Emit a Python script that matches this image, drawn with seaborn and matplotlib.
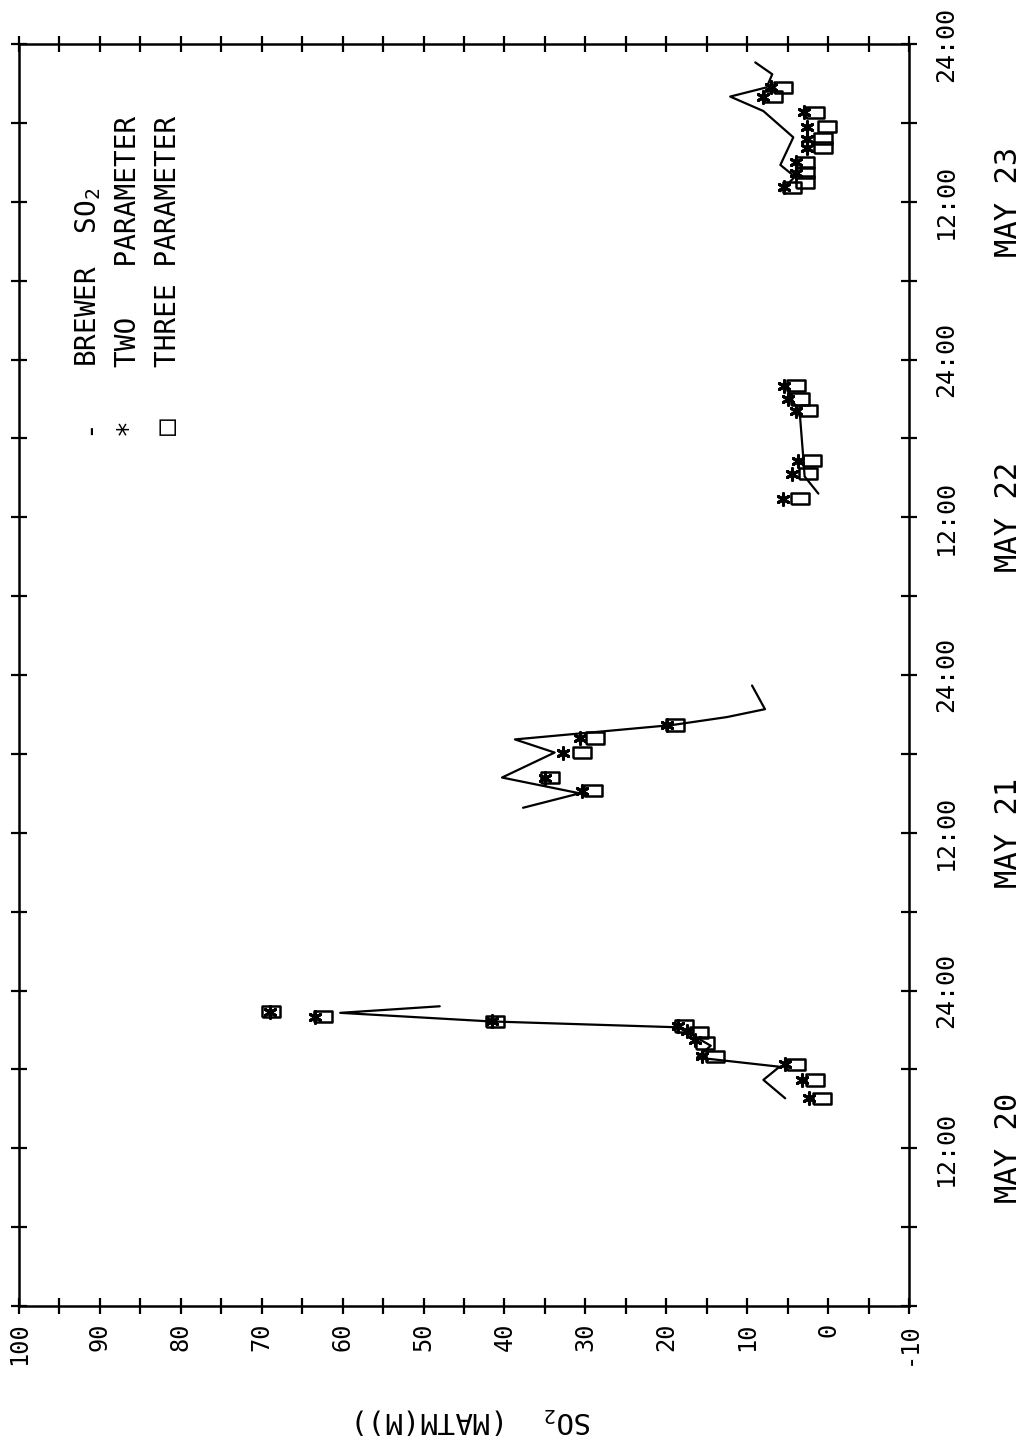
import numpy as np
import pandas as pd
import matplotlib
matplotlib.use("Agg")
import matplotlib.pyplot as plt
import seaborn as sns

# ---- data (time in hours since MAY 20 00:00, SO2 in MATM(M)) ----
brewer_seg = [0]*10 + [1]*9 + [2]*6 + [3]*9
brewer_time = [15.8, 17.2, 18.2, 18.9, 19.8, 20.5, 21.2, 21.65, 22.3, 22.8,
               37.9, 39.0, 40.2, 42.1, 43.1, 44.2, 44.8, 45.4, 47.2,
               61.8, 63.1, 64.8, 67.9, 69.0, 70.0,
               84.8, 85.9, 86.8, 88.9, 90.9, 92.0, 92.7, 93.7, 94.6]
brewer_so2 = [5.3, 8.0, 6.0, 16.2, 14.5, 16.5, 18.5, 41.8, 60.3, 48.0,
              37.7, 30.7, 40.3, 33.8, 38.7, 19.2, 12.5, 7.8, 9.4,
              1.2, 2.9, 3.1, 3.5, 4.5, 5.0,
              5.9, 4.1, 5.9, 4.3, 8.0, 12.1, 7.6, 6.9, 9.0]

two_time = [15.8, 17.2, 18.4, 19.0, 20.2, 20.9, 21.3, 21.65, 22.0, 22.4,
            39.2, 40.2, 42.1, 43.2, 44.2,
            61.4, 63.3, 64.3, 68.1, 69.0, 70.0,
            85.1, 86.2, 87.0, 88.1, 88.8, 89.7, 90.8, 92.0, 92.7]
two_so2 = [2.3, 3.2, 5.3, 15.6, 16.5, 17.5, 18.5, 41.6, 63.4, 69.0,
           30.4, 35.0, 32.8, 30.7, 19.9,
           5.6, 4.5, 3.7, 4.0, 5.0, 5.5,
           5.5, 4.0, 4.0, 2.6, 2.6, 2.6, 3.0, 8.0, 7.0]

three_time = [15.8, 17.2, 18.4, 19.0, 20.0, 20.8, 21.3, 21.65, 22.0, 22.4,
              39.2, 40.2, 42.1, 43.2, 44.2,
              61.4, 63.3, 64.3, 68.1, 69.0, 70.0,
              85.1, 85.5, 86.2, 87.0, 88.1, 88.8, 89.7, 90.8, 92.0, 92.7]
three_so2 = [0.7, 1.6, 4.0, 14.0, 15.2, 16.0, 17.8, 41.2, 62.4, 68.8,
             29.1, 34.4, 30.4, 28.8, 18.9,
             3.5, 2.5, 2.0, 2.5, 3.5, 4.0,
             4.5, 2.9, 2.9, 2.9, 0.6, 0.6, 0.1, 1.6, 6.8, 5.6]

so2_ticks = list(range(-10, 101, 10))
time_ticks = list(range(0, 97, 6))
time_labels = ["" if t % 12 else ("12:00" if (t // 12) % 2 else "24:00") for t in time_ticks]
time_labels[0] = ""
day_labels = ["MAY 20", "MAY 21", "MAY 22", "MAY 23"]
day_pos = [12, 36, 60, 84]

# ---- style ----
sns.set_theme(style="white")
plt.rcParams["font.family"] = ["DejaVu Sans Mono", "DejaVu Sans"]
plt.rcParams["mathtext.fontset"] = "custom"
plt.rcParams["mathtext.rm"] = "DejaVu Sans Mono"
plt.rcParams["mathtext.it"] = "DejaVu Sans Mono"

W, H = 1031, 1450
fig = plt.figure(figsize=(W / 100, H / 100), dpi=100)
L, R, T, B = 19, 909, 44, 1306
ax = fig.add_axes([L / W, 1 - B / H, (R - L) / W, (B - T) / H])

brewer = pd.DataFrame({"t": brewer_time, "v": brewer_so2, "seg": brewer_seg})
sns.lineplot(data=brewer, x="v", y="t", units="seg", estimator=None, sort=False,
             color="black", lw=1.6, ax=ax)

rect = [(-1.0, -0.62), (1.0, -0.62), (1.0, 0.62), (-1.0, 0.62), (-1.0, -0.62)]
sns.scatterplot(x=three_so2, y=three_time, marker=rect, s=170, facecolor="none",
                edgecolor="black", linewidth=1.8, ax=ax, zorder=3)
sns.scatterplot(x=two_so2, y=two_time, marker=(6, 2, 0), s=70, color="black",
                linewidth=2.2, ax=ax, zorder=4)

ax.set_xlim(100, -10)
ax.set_ylim(0, 96)
ax.set_xlabel("")
ax.set_ylabel("")
for s in ax.spines.values():
    s.set_color("black")
    s.set_linewidth(1.8)

ax.set_xticks(so2_ticks)
ax.set_xticks(list(range(-5, 100, 10)), minor=True)
ax.set_xticklabels([str(v) for v in so2_ticks], rotation=90, fontsize=17)
ax.tick_params(axis="x", which="both", direction="inout", length=12, width=1.6,
               top=True, bottom=True, pad=6, colors="black")
ax.set_yticks(time_ticks)
ax.set_yticklabels(time_labels, rotation=90, va="center", fontsize=18)
ax.tick_params(axis="y", which="both", direction="inout", length=12, width=1.6,
               left=True, right=True, labelleft=False, labelright=True, pad=12,
               colors="black")

for lab, pos in zip(day_labels, day_pos):
    ax.text(1.112, pos, lab, transform=ax.get_yaxis_transform(), rotation=90,
            ha="center", va="center", fontsize=22, color="black")

# legend (drawn as rotated text)
leg_x = [0.0775, 0.1225, 0.167]
leg_sym = ["-", "*", "\u25a1"]
leg_txt = ["BREWER  SO$_2$", "TWO   PARAMETER", "THREE PARAMETER"]
for x, sy, tx in zip(leg_x, leg_sym, leg_txt):
    ax.text(x, 0.6965, sy, transform=ax.transAxes, rotation=90,
            ha="center", va="center", fontsize=20, color="black",
            family=["DejaVu Sans Mono", "DejaVu Sans"])
    ax.text(x, 0.744, tx, transform=ax.transAxes, rotation=90,
            rotation_mode="anchor", ha="left", va="center", fontsize=20,
            color="black")

fig.text(473 / W, 1 - 1420 / H, "SO$_2$  (MATM(M))", rotation=180,
         ha="center", va="center", fontsize=21, color="black")

fig.savefig("out.png", dpi=100, facecolor="white")
